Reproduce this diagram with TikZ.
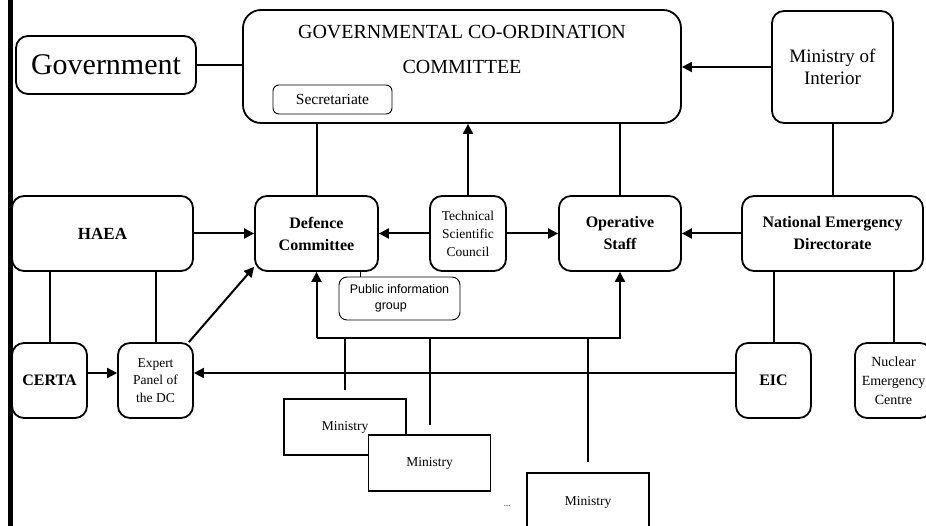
\documentclass[tikz,border=0pt]{standalone}
\usepackage{fontspec}
\setmainfont{Liberation Serif}
\newfontfamily\arialfont{Liberation Sans}
\usetikzlibrary{arrows.meta}

\begin{document}
\begin{tikzpicture}[x=1pt,y=-1pt,
    box/.style={draw, line width=1.8pt, rounded corners=12pt, align=center, inner sep=0pt},
    boldbox/.style={box, font=\fontsize{16}{22}\selectfont\bfseries},
    smallbox/.style={draw, line width=0.9pt, rounded corners=6pt, inner sep=0pt},
    minbox/.style={draw, line width=1.8pt, fill=white, inner sep=0pt, minimum width=122, minimum height=56, font=\fontsize{13.5}{16}\selectfont},
    link/.style={line width=2pt},
    arr/.style={line width=2pt, -{Triangle[length=10pt,width=10pt]}}]
  \useasboundingbox (0,0) rectangle (926,526);
  \draw [line width=5pt] (10.5,0) -- (10.5,526);

  \node [box, minimum width=180, minimum height=58, font=\fontsize{30}{34}\selectfont] (gov) at (106,65) {Government};
  \node [box, rounded corners=18pt, minimum width=438, minimum height=113] (gcc) at (462,66.5) {};
  \node [align=center, inner sep=0pt, font=\fontsize{20}{35}\selectfont] (gcctitle) at (462,49) {GOVERNMENTAL CO-ORDINATION\\COMMITTEE};
  \node [smallbox, minimum width=119, minimum height=29, font=\fontsize{15.5}{18}\selectfont] (sec) at (332.5,99.5) {Secretariate};
  \node [box, minimum width=121, minimum height=112, font=\fontsize{19}{22}\selectfont] (moi) at (832.5,67) {Ministry of\\Interior};

  \node [boldbox, minimum width=181, minimum height=75, font=\fontsize{17}{22}\selectfont\bfseries] (haea) at (102.5,233.5) {HAEA};
  \node [boldbox, minimum width=123, minimum height=75] (dc) at (316.5,233.5) {Defence\\Committee};
  \node [box, minimum width=76, minimum height=75, font=\fontsize{13.5}{18}\selectfont] (tsc) at (468,233.5) {Technical\\Scientific\\Council};
  \node [boldbox, minimum width=122, minimum height=75] (os) at (620,233.5) {Operative\\Staff};
  \node [boldbox, minimum width=181, minimum height=75] (ned) at (832.5,233.5) {National Emergency\\Directorate};
  \node [smallbox, rounded corners=8pt, minimum width=121, minimum height=43, align=left, font=\arialfont\fontsize{12.5}{16}\selectfont] (pig) at (399.5,298.5) {Public information\\\hspace*{2em}group};

  \node [boldbox, minimum width=75, minimum height=75] (certa) at (49.5,380.5) {CERTA};
  \node [box, minimum width=75, minimum height=75, font=\fontsize{13.5}{17.5}\selectfont] (ep) at (155.5,380.5) {Expert\\Panel of\\the DC};
  \node [boldbox, minimum width=75, minimum height=75] (eic) at (773.5,380.5) {EIC};
  \node [box, minimum width=77, minimum height=75, font=\fontsize{14}{19}\selectfont] (nec) at (893.5,380.5) {Nuclear\\Emergency\\Centre};

  \node [minbox] (min1) at (345,427) {Ministry};
  \node [minbox] (min2) at (429.5,463) {Ministry};
  \node [minbox, minimum height=58] (min3) at (588,502) {Ministry};
  \node [inner sep=0pt, font=\fontsize{7}{8}\selectfont] (dots) at (507,506) {....};

  \coordinate (bus) at (0,338);
  \coordinate (side) at (0,373);

  \draw [link] (gov) -- (gov -| gcc.west);
  \draw [arr] (moi.west) -- (moi.west -| gcc.east);
  \draw [link] (dc.north) -- (dc.north |- gcc.south);
  \draw [arr] (tsc.north) -- (tsc.north |- gcc.south);
  \draw [link] (os.north) -- (os.north |- gcc.south);
  \draw [link] (moi.south) -- (moi.south |- ned.north);

  \draw [arr] (haea.east) -- (dc.west);
  \draw [arr] (tsc.west) -- (dc.east);
  \draw [arr] (tsc.east) -- (os.west);
  \draw [arr] (ned.west) -- (os.east);
  \draw [link, line width=1pt] (pig.north -| 360,0) -- (dc.south -| 360,0);

  \draw [link] (certa.north |- haea.south) -- (certa.north);
  \draw [link] (ep.north |- haea.south) -- (ep.north);
  \draw [link] (eic.north |- ned.south) -- (eic.north);
  \draw [link] (nec.north |- ned.south) -- (nec.north);

  \draw [arr] (certa.east |- side) -- (ep.west |- side);
  \draw [arr] (eic.west |- side) -- (ep.east |- side);
  \draw [arr] ([xshift=-5pt]ep.north east) -- ([yshift=5pt]dc.south west);

  \draw [arr] (dc.south |- bus) -- (dc.south);
  \draw [arr] (dc.south |- bus) -- (os.south |- bus) -- (os.south);
  \draw [link] (min1.north |- bus) -- ([yshift=8pt]min1.north);
  \draw [link] (min2.north |- bus) -- ([yshift=9pt]min2.north);
  \draw [link] (min3.north |- bus) -- ([yshift=10pt]min3.north);
\end{tikzpicture}
\end{document}
